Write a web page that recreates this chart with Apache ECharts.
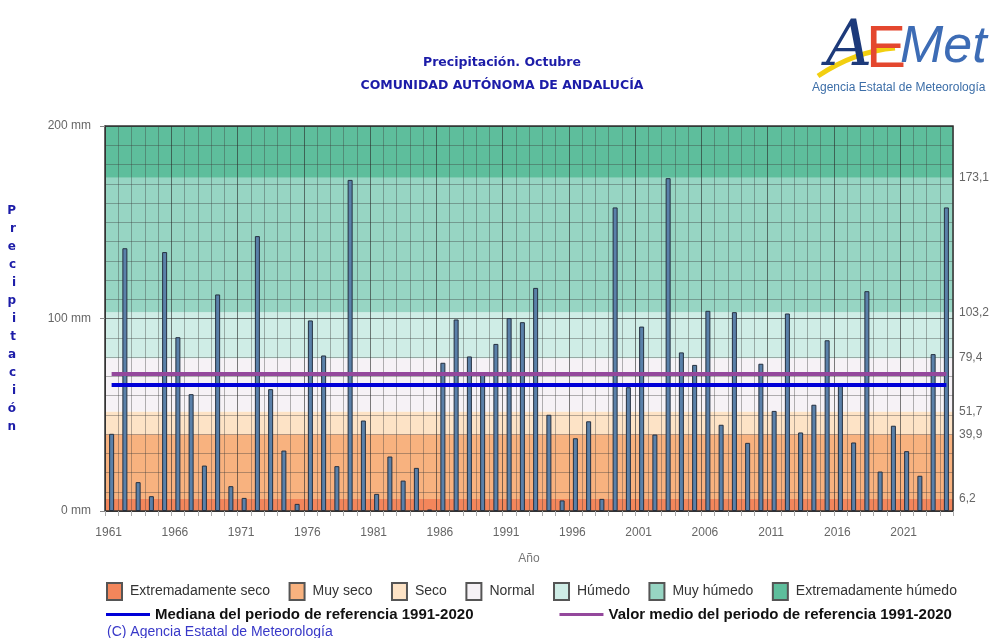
<!DOCTYPE html>
<html><head><meta charset="utf-8">
<script src="https://cdn.jsdelivr.net/npm/echarts@6/dist/echarts.min.js"></script>
<style>html,body{margin:0;padding:0;background:#fff}#c{width:996px;height:638px}</style>
</head><body><div id="c"></div>
<script>
const years = ['1961','1962','1963','1964','1965','1966','1967','1968','1969','1970',
'1971','1972','1973','1974','1975','1976','1977','1978','1979','1980',
'1981','1982','1983','1984','1985','1986','1987','1988','1989','1990',
'1991','1992','1993','1994','1995','1996','1997','1998','1999','2000',
'2001','2002','2003','2004','2005','2006','2007','2008','2009','2010',
'2011','2012','2013','2014','2015','2016','2017','2018','2019','2020',
'2021','2022','2023','2024'];
const precipitation = [40.1,136.5,15.0,7.7,134.5,90.3,60.7,23.6,112.5,12.9,
6.8,142.8,63.3,31.4,3.7,99.0,80.8,23.3,172.0,47.0,
8.9,28.3,15.8,22.4,0.8,77.0,99.5,80.3,71.8,86.8,
100.2,98.1,115.9,50.0,5.5,37.8,46.6,6.3,157.7,64.3,
95.8,39.7,172.9,82.4,75.9,104.0,44.8,103.3,35.4,76.5,
52.0,102.6,40.8,55.2,88.7,66.4,35.6,114.2,20.5,44.3,
31.1,18.3,81.5,157.7];
const thresholds = [6.2, 39.9, 51.7, 79.4, 103.2, 173.1];
const bandNames = ['Extremadamente seco','Muy seco','Seco','Normal','Húmedo','Muy húmedo','Extremadamente húmedo'];
const bandColors = ['#f3865b','#f8b27f','#fde3c6','#f6f2f6','#cfede6','#97d5c3','#5ebe9c'];
const yMin = 0, yMax = 200, yMajor = 100, yMinorCount = 10;
const medianName = 'Mediana del periodo de referencia 1991-2020';
const meanName = 'Valor medio del periodo de referencia 1991-2020';
const medianValue = 65.6;
const meanValue = 71.3;

const chart = echarts.init(document.getElementById('c'), null, {renderer:'canvas'});
const blue = '#1c1ca8';

const bandSeries = bandNames.map((n, i) => ({
  type: 'line', name: n, data: [], symbol: 'none',
  itemStyle: {color: bandColors[i], borderColor: '#555', borderWidth: 1},
  lineStyle: {color: bandColors[i]},
  markArea: {
    silent: true, z: 1,
    itemStyle: {color: bandColors[i], opacity: 1, borderWidth: 0},
    data: [[{yAxis: i === 0 ? yMin : thresholds[i-1]}, {yAxis: i === bandNames.length-1 ? yMax : thresholds[i]}]]
  }
}));

const refLine = (name, val, color) => ({
  type: 'line', name: name, data: [], symbol: 'none',
  itemStyle: {color: color}, lineStyle: {color: color, width: 4},
  markLine: {
    silent: true, symbol: 'none', z: 5,
    lineStyle: {color: color, width: 4, type: 'solid'},
    label: {show: false},
    data: [[{coord: [years[0], val]}, {coord: [years[years.length-1], val]}]]
  }
});

const fmt = v => String(v).replace('.', ',');
const darkGrid = 'rgba(40,40,40,0.6)';
const lightGrid = 'rgba(60,60,60,0.38)';

chart.setOption({
  animation: false,
  title: {
    text: 'Precipitación. Octubre\nCOMUNIDAD AUTÓNOMA DE ANDALUCÍA',
    left: 497, top: 46, textAlign: 'center',
    textStyle: {color: blue, fontSize: 12.5, fontWeight: 'bold', fontFamily: 'DejaVu Sans', lineHeight: 23}
  },
  grid: {left: 105, right: 43, top: 126, bottom: 127, show: true, borderColor: '#333', borderWidth: 1.5, z: 2, containLabel: false},
  legend: [{
    data: bandNames, left: 106, top: 582, padding: 0, itemWidth: 15, itemHeight: 17, itemGap: 18.5, icon: 'rect',
    selectedMode: false,
    textStyle: {fontSize: 14, color: '#333', fontFamily: 'Liberation Sans', padding: [0,0,0,3]}
  }, {
    data: [medianName, meanName], left: 106, top: 607, padding: 0, itemWidth: 44, itemHeight: 3, itemGap: 86, icon: 'rect',
    selectedMode: false,
    textStyle: {fontSize: 15, color: '#111', fontWeight: 'bold', fontFamily: 'Liberation Sans'}
  }],
  xAxis: {
    type: 'category', data: years, boundaryGap: true, z: 2,
    name: 'Año', nameLocation: 'middle', nameGap: 42,
    nameTextStyle: {color: '#777', fontSize: 12, fontFamily: 'Liberation Sans'},
    axisLine: {show: true, lineStyle: {color: '#333'}},
    axisTick: {show: true, interval: 0, length: 5, lineStyle: {color: '#aaa'}},
    axisLabel: {interval: 4, color: '#666', fontSize: 12, margin: 16, fontFamily: 'Liberation Sans', padding: [0,6,0,0]},
    splitLine: {show: true, interval: 0, lineStyle: {color: [darkGrid, lightGrid, lightGrid, lightGrid, lightGrid], width: 1}}
  },
  yAxis: [{
    type: 'value', min: yMin, max: yMax, interval: yMajor, z: 2,
    name: 'Precipitación'.split('').join('\n'), nameLocation: 'middle', nameGap: 89, nameRotate: 0,
    nameTextStyle: {color: blue, fontWeight: 'bold', fontSize: 12, fontFamily: 'DejaVu Sans', lineHeight: 18, padding: [8,0,0,0]},
    axisLine: {show: true, lineStyle: {color: '#333'}},
    axisTick: {show: true, length: 5, lineStyle: {color: '#888'}},
    minorTick: {show: false, splitNumber: yMinorCount},
    axisLabel: {formatter: v => v + ' mm', color: '#666', fontSize: 12, margin: 14, fontFamily: 'Liberation Sans'},
    splitLine: {show: true, lineStyle: {color: darkGrid, width: 1}},
    minorSplitLine: {show: true, lineStyle: {color: lightGrid, width: 1}}
  }, {
    type: 'value', min: yMin, max: yMax, position: 'right', z: 2,
    axisLine: {show: false}, axisTick: {show: false}, splitLine: {show: false},
    axisLabel: {customValues: thresholds, formatter: fmt, color: '#666', fontSize: 12, margin: 6, fontFamily: 'Liberation Sans'}
  }],
  series: [
    ...bandSeries,
    {
      type: 'bar', name: 'Precipitación', data: precipitation, barWidth: 5, z: 3,
      itemStyle: {color: '#5a80a9', borderColor: '#253040', borderWidth: 1}
    },
    refLine(medianName, medianValue, '#0000d8'),
    refLine(meanName, meanValue, '#94489c')
  ],
  graphic: [
    {type: 'text', left: 107, top: 625, style: {text: '(C) Agencia Estatal de Meteorología', fill: '#3838c8', font: '14px "Liberation Sans"'}},
    {type: 'bezierCurve', shape: {x1: 818, y1: 76, cpx1: 845, cpy1: 58, cpx2: 870, cpy2: 50, x2: 895, y2: 48}, style: {stroke: '#f2cf10', lineWidth: 5, fill: null}},
    {type: 'text', left: 826, top: 16, style: {text: 'A', fill: '#1d3a7a', font: 'italic 64px "DejaVu Serif"'}},
    {type: 'text', left: 866, top: 20, style: {text: 'E', fill: '#e4472e', font: '60px "Liberation Sans"'}},
    {type: 'text', left: 900, top: 22, style: {text: 'Met', fill: '#3d6cb5', font: 'italic 52px "Liberation Sans"'}},
    {type: 'text', left: 812, top: 82, style: {text: 'Agencia Estatal de Meteorología', fill: '#3c6ea8', font: '12px "Liberation Sans"'}}
  ]
});
</script></body></html>
